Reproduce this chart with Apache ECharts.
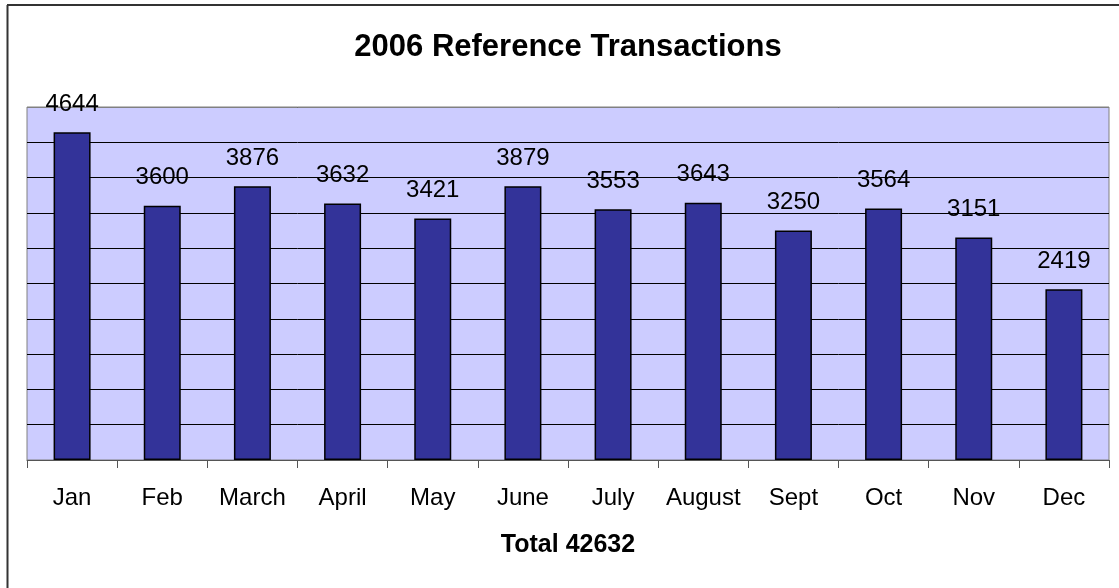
<!DOCTYPE html>
<html>
<head>
<meta charset="utf-8">
<script src="https://cdn.jsdelivr.net/npm/echarts@6/dist/echarts.min.js"></script>
<style>
  html, body { margin: 0; padding: 0; background: #fff; }
  #chart { width: 1119px; height: 588px; }
</style>
</head>
<body>
<div id="chart"></div>
<script>
const months = ['Jan', 'Feb', 'March', 'April', 'May', 'June', 'July', 'August', 'Sept', 'Oct', 'Nov', 'Dec'];
const transactions = [4644, 3600, 3876, 3632, 3421, 3879, 3553, 3643, 3250, 3564, 3151, 2419];
const titleText = '2006 Reference Transactions';
const totalText = 'Total 42632';

const font = '"Liberation Sans", Arial, sans-serif';
const chart = echarts.init(document.getElementById('chart'));

chart.setOption({
    animation: false,
    textStyle: { fontFamily: font },
    grid: {
        left: 27,
        right: 10,
        top: 107,
        bottom: 128,
        show: true,
        backgroundColor: '#CCCCFF',
        borderColor: '#808080',
        borderWidth: 1
    },
    xAxis: {
        type: 'category',
        data: months,
        boundaryGap: true,
        axisLine: { lineStyle: { color: '#555', width: 1 } },
        axisTick: { show: true, interval: 0, length: 8, lineStyle: { color: '#555' } },
        axisLabel: { interval: 0, color: '#000', fontSize: 24, margin: 26, fontFamily: font }
    },
    yAxis: {
        type: 'value',
        min: 0,
        max: 5000,
        interval: 500,
        axisLine: { show: false },
        axisTick: { show: false },
        axisLabel: { show: false },
        splitLine: { lineStyle: { color: '#000', width: 1 } }
    },
    series: [
        {
            type: 'bar',
            data: transactions,
            barWidth: 37,
            itemStyle: { color: '#333399', borderColor: '#000', borderWidth: 1.5 },
            label: {
                show: true,
                position: 'top',
                distance: 16,
                color: '#000',
                fontSize: 24,
                fontFamily: font
            },
            z: 3
        }
    ],
    graphic: [
        // frame of the chart (top and left only visible)
        { type: 'line', shape: { x1: 7, y1: 5, x2: 1119, y2: 5 }, style: { stroke: '#333', lineWidth: 2 } },
        { type: 'line', shape: { x1: 7.5, y1: 5, x2: 7.5, y2: 588 }, style: { stroke: '#333', lineWidth: 2 } },
        // gray plot border on top, over the 5000 split line
        { type: 'line', z: 1, shape: { x1: 27, y1: 107.5, x2: 1109, y2: 107.5 }, style: { stroke: '#808080', lineWidth: 1 } },
        {
            type: 'text', x: 568, y: 47,
            style: { text: titleText, fill: '#000', font: 'bold 31px ' + font, textAlign: 'center', textVerticalAlign: 'middle' }
        },
        {
            type: 'text', x: 568, y: 545,
            style: { text: totalText, fill: '#000', font: 'bold 25px ' + font, textAlign: 'center', textVerticalAlign: 'middle' }
        }
    ]
});
</script>
</body>
</html>
